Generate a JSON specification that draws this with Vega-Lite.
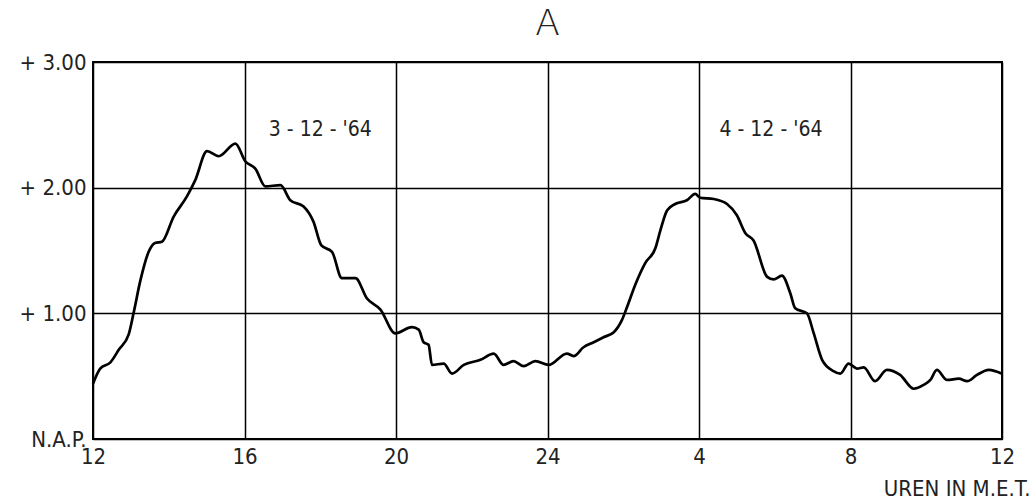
{
  "$schema": "https://vega.github.io/schema/vega-lite/v6.json",
  "width": 909,
  "height": 377,
  "autosize": {"type": "none"},
  "padding": {"left": 93, "top": 62, "right": 34, "bottom": 62},
  "background": "white",
  "config": {
    "view": {"stroke": "black", "strokeWidth": 2},
    "font": "DejaVu Sans Condensed"
  },
  "datasets": {
    "curve": [
      {"h": 12.0, "v": 0.44}, {"h": 12.19, "v": 0.56}, {"h": 12.46, "v": 0.61}, {"h": 12.68, "v": 0.71},
      {"h": 12.94, "v": 0.83}, {"h": 13.07, "v": 1.0}, {"h": 13.25, "v": 1.26}, {"h": 13.47, "v": 1.49},
      {"h": 13.64, "v": 1.56}, {"h": 13.82, "v": 1.57}, {"h": 14.13, "v": 1.77}, {"h": 14.48, "v": 1.93},
      {"h": 14.7, "v": 2.06}, {"h": 15.01, "v": 2.29}, {"h": 15.32, "v": 2.25}, {"h": 15.76, "v": 2.35},
      {"h": 16.02, "v": 2.21}, {"h": 16.29, "v": 2.15}, {"h": 16.55, "v": 2.01}, {"h": 16.95, "v": 2.02},
      {"h": 17.21, "v": 1.9}, {"h": 17.56, "v": 1.85}, {"h": 17.82, "v": 1.73}, {"h": 18.03, "v": 1.54},
      {"h": 18.31, "v": 1.49}, {"h": 18.57, "v": 1.28}, {"h": 18.93, "v": 1.28}, {"h": 19.23, "v": 1.12},
      {"h": 19.59, "v": 1.03}, {"h": 19.98, "v": 0.84}, {"h": 20.42, "v": 0.89}, {"h": 20.6, "v": 0.87},
      {"h": 20.73, "v": 0.77}, {"h": 20.86, "v": 0.75}, {"h": 20.95, "v": 0.59}, {"h": 21.26, "v": 0.6},
      {"h": 21.48, "v": 0.52}, {"h": 21.79, "v": 0.59}, {"h": 22.23, "v": 0.63}, {"h": 22.58, "v": 0.68},
      {"h": 22.84, "v": 0.59}, {"h": 23.1, "v": 0.62}, {"h": 23.37, "v": 0.58}, {"h": 23.68, "v": 0.62},
      {"h": 24.03, "v": 0.59}, {"h": 24.51, "v": 0.68}, {"h": 24.69, "v": 0.66}, {"h": 24.95, "v": 0.73},
      {"h": 25.22, "v": 0.77}, {"h": 25.48, "v": 0.81}, {"h": 25.75, "v": 0.85}, {"h": 25.97, "v": 0.95},
      {"h": 26.1, "v": 1.05}, {"h": 26.32, "v": 1.23}, {"h": 26.58, "v": 1.4}, {"h": 26.85, "v": 1.52},
      {"h": 26.98, "v": 1.66}, {"h": 27.16, "v": 1.82}, {"h": 27.37, "v": 1.87}, {"h": 27.68, "v": 1.9},
      {"h": 27.9, "v": 1.95}, {"h": 28.03, "v": 1.92}, {"h": 28.39, "v": 1.91}, {"h": 28.74, "v": 1.87},
      {"h": 29.0, "v": 1.78}, {"h": 29.22, "v": 1.64}, {"h": 29.44, "v": 1.58}, {"h": 29.8, "v": 1.29},
      {"h": 29.97, "v": 1.27}, {"h": 30.19, "v": 1.3}, {"h": 30.41, "v": 1.16}, {"h": 30.54, "v": 1.04},
      {"h": 30.85, "v": 1.0}, {"h": 31.03, "v": 0.84}, {"h": 31.25, "v": 0.63}, {"h": 31.55, "v": 0.54},
      {"h": 31.73, "v": 0.52}, {"h": 31.95, "v": 0.6}, {"h": 32.17, "v": 0.56}, {"h": 32.35, "v": 0.57},
      {"h": 32.65, "v": 0.46}, {"h": 32.96, "v": 0.55}, {"h": 33.31, "v": 0.51}, {"h": 33.67, "v": 0.4},
      {"h": 33.93, "v": 0.43}, {"h": 34.11, "v": 0.47}, {"h": 34.28, "v": 0.55}, {"h": 34.55, "v": 0.47},
      {"h": 34.86, "v": 0.48}, {"h": 35.08, "v": 0.46}, {"h": 35.34, "v": 0.51}, {"h": 35.65, "v": 0.55},
      {"h": 36.0, "v": 0.52}
    ],
    "labels": [
      {"h": 18.0, "v": 2.46, "t": "3 - 12 - '64"},
      {"h": 29.9, "v": 2.46, "t": "4 - 12 - '64"}
    ],
    "heading": [
      {"h": 24.0, "v": 3.3, "t": "A"}
    ]
  },
  "layer": [
    {
      "data": {"name": "curve"},
      "mark": {"type": "line", "color": "black", "strokeWidth": 2.7, "interpolate": "monotone"},
      "encoding": {
        "x": {
          "field": "h", "type": "quantitative",
          "scale": {"domain": [12, 36], "nice": false, "zero": false},
          "axis": {
            "values": [12, 16, 20, 24, 28, 32, 36],
            "labelExpr": "datum.value > 24 ? datum.value - 24 : datum.value",
            "grid": true, "gridColor": "black", "gridWidth": 1.5, "gridOpacity": 1,
            "ticks": false, "domain": false,
            "labelFontSize": 22, "labelColor": "#222", "labelPadding": 7, "labelFlush": false,
            "title": "UREN IN M.E.T.", "titleFontSize": 22, "titleFontWeight": "normal", "titleColor": "#222",
            "titleAnchor": "end", "titleAlign": "right", "titleX": 937, "titleY": 49, "titleBaseline": "middle"
          }
        },
        "y": {
          "field": "v", "type": "quantitative",
          "scale": {"domain": [0, 3], "nice": false},
          "axis": {
            "values": [0, 1, 2, 3],
            "labelExpr": "datum.value == 0 ? 'N.A.P.' : '+ ' + format(datum.value, '.2f')",
            "grid": true, "gridColor": "black", "gridWidth": 1.5, "gridOpacity": 1,
            "ticks": false, "domain": false,
            "labelFontSize": 22, "labelColor": "#222", "labelPadding": 7, "labelFlush": false,
            "title": null
          }
        }
      }
    },
    {
      "data": {"name": "labels"},
      "mark": {"type": "text", "fontSize": 21, "color": "#222", "align": "center", "baseline": "middle", "font": "DejaVu Sans Condensed"},
      "encoding": {
        "x": {"field": "h", "type": "quantitative"},
        "y": {"field": "v", "type": "quantitative"},
        "text": {"field": "t"}
      }
    },
    {
      "data": {"name": "heading"},
      "mark": {"type": "text", "fontSize": 36, "fontWeight": 200, "color": "#222", "align": "center", "baseline": "middle", "font": "DejaVu Sans"},
      "encoding": {
        "x": {"field": "h", "type": "quantitative"},
        "y": {"field": "v", "type": "quantitative"},
        "text": {"field": "t"}
      }
    }
  ]
}
